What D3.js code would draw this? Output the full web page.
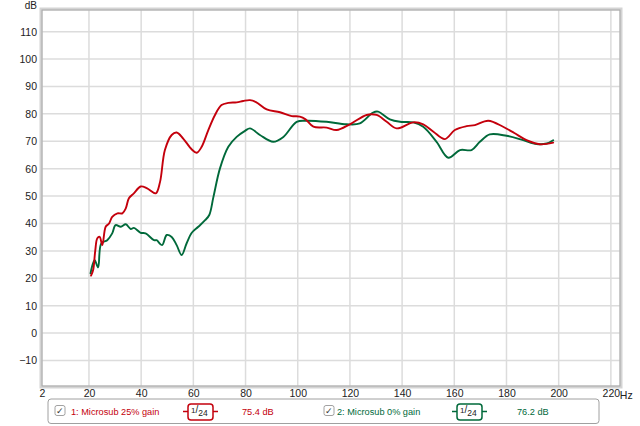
<!DOCTYPE html>
<html>
<head>
<meta charset="utf-8">
<script src="https://cdn.jsdelivr.net/npm/d3@7"></script>
<style>
  html, body { margin: 0; padding: 0; background: #fff; }
  svg { display: block; font-family: "Liberation Sans", Arial, sans-serif; }
</style>
</head>
<body>
<svg id="chart" width="640" height="426"></svg>
<script>
// ---- Data ----
const xTicks = [2, 20, 40, 60, 80, 100, 120, 140, 160, 180, 200, 220];
const yTicks = [-10, 0, 10, 20, 30, 40, 50, 60, 70, 80, 90, 100, 110];

const seriesNames = ["1: Microsub 25% gain", "2: Microsub 0% gain"];
const seriesLevels = ["75.4 dB", "76.2 dB"];
const seriesColors = ["#c4000c", "#00693a"];

const redFreq = [20.8, 21.6, 22.4, 23.2, 24.1, 25.1, 26.4, 27.7, 28.9, 30.9, 32.8, 34.1, 35.3, 37.2, 39.8, 42.3, 45.6,
  47.2, 49.1, 51.7, 53.6, 56.1, 59.4, 61.3, 63.2, 65.7, 68.3, 70.8, 73.4, 76.6, 79.1, 81.7, 84, 88.1, 93.2, 97.7,
  100.8, 103, 106, 111.1, 114.9, 120, 126.4, 130.2, 134.1, 137.9, 144.3, 148.1, 152, 156.4, 160.2, 164.7, 167.9,
  173, 178.7, 183, 187.7, 192.8, 197.9];
const redDb = [21, 23, 30, 34.6, 35.1, 32.1, 38.8, 40, 42.4, 43.7, 43.7, 45.5, 49.2, 51, 53.5, 52.8, 51,
  55, 66.8, 72.3, 73.2, 71, 67, 65.8, 68, 74, 79.6, 83.2, 84, 84.2, 84.7, 85, 84.3, 81.6, 80.6, 79.2,
  79, 78, 75.3, 75, 74.1, 76.2, 79.6, 79.6, 77.1, 74.7, 76.9, 76.2, 73.5, 70.8, 74.1, 75.5, 75.9,
  77.5, 75.3, 73, 70.4, 68.9, 69.5];

const greenFreq = [20.6, 21.4, 22.2, 23.5, 24.7, 27, 28.9, 30.2, 32.2, 34.1, 36, 37.2, 39.8, 41.7, 44.9, 45.9, 48,
  49.8, 51.7, 53.6, 55.5, 57.4, 59.4, 61.9, 64.5, 66.1, 67.7, 70.2, 73.4, 76.6, 79.8, 81.7, 85.5, 90.6, 94.5,
  99.6, 103.4, 111.1, 118.7, 123.8, 128.9, 130.8, 135.3, 139.2, 144.3, 148.1, 153.2, 157.7, 162.2, 166.6, 169.8,
  173.6, 180, 186.4, 191.5, 195.4, 197.9];
const greenDb = [21.8, 25, 26.6, 24, 32.7, 33.9, 36.4, 39.4, 38.8, 39.7, 38, 38.4, 36.6, 36.4, 33.9, 33.9, 32.1,
  35.8, 35.1, 32.1, 28.5, 32.7, 36.6, 38.8, 41.2, 43.1, 49.7, 60.1, 68, 71.6, 73.8, 74.7, 72.3, 69.8, 71.6,
  77.1, 77.5, 77.1, 76.2, 76.5, 80.5, 80.8, 78, 77.1, 76.9, 75.3, 69.8, 64, 66.8, 66.8, 69.8,
  72.5, 72, 70.4, 69, 69.2, 70.4];

// ---- Layout ----
const svg = d3.select("#chart");
const plot = { left: 42, top: 10, right: 620, bottom: 386 };

const x = d3.scaleLinear().domain([2, 223.5]).range([plot.left, plot.right]);
const y = d3.scaleLinear().domain([-19.3, 117.9]).range([plot.bottom, plot.top]);

// grid
const grid = svg.append("g");
grid.selectAll("line.v").data(xTicks.filter(d => d > 2)).join("line")
  .attr("x1", d => x(d)).attr("x2", d => x(d))
  .attr("y1", plot.top).attr("y2", plot.bottom)
  .attr("stroke", "#dcdcdc").attr("stroke-width", 1.5);
grid.selectAll("line.h").data(yTicks).join("line")
  .attr("x1", plot.left).attr("x2", plot.right)
  .attr("y1", d => y(d)).attr("y2", d => y(d))
  .attr("stroke", "#dcdcdc").attr("stroke-width", 1.5);

// frame with soft shadow
svg.append("rect")
  .attr("x", plot.left - 1).attr("y", plot.top - 1)
  .attr("width", plot.right - plot.left + 2).attr("height", plot.bottom - plot.top + 2)
  .attr("fill", "none").attr("stroke", "#d4d4d4").attr("stroke-width", 3);
svg.append("rect")
  .attr("x", plot.left).attr("y", plot.top)
  .attr("width", plot.right - plot.left).attr("height", plot.bottom - plot.top)
  .attr("fill", "none").attr("stroke", "#a8a8a8").attr("stroke-width", 1);

// axes (using d3 axis generators, domain line hidden)
const xAxis = d3.axisBottom(x).tickValues(xTicks).tickSize(0).tickPadding(4)
  .tickFormat(d => String(d));
const gx = svg.append("g").attr("transform", `translate(0,${plot.bottom})`).call(xAxis);
gx.select(".domain").remove();
gx.selectAll("text").attr("font-size", "10.5px").attr("fill", "#222")
  .attr("font-family", "Liberation Sans, Arial, sans-serif");
svg.append("text").attr("x", x(220) + 9).attr("y", plot.bottom + 13)
  .attr("font-size", "10.5px").attr("fill", "#222").text("Hz");

const yAxis = d3.axisLeft(y).tickValues(yTicks).tickSize(0).tickPadding(5);
const gy = svg.append("g").attr("transform", `translate(${plot.left},0)`).call(yAxis);
gy.select(".domain").remove();
gy.selectAll("text").attr("font-size", "10.5px").attr("fill", "#222")
  .attr("font-family", "Liberation Sans, Arial, sans-serif");
svg.append("text").attr("x", 37).attr("y", 8.5).attr("text-anchor", "end")
  .attr("font-size", "10px").attr("fill", "#222").text("dB");

// curves
const line = d3.line().x(d => x(d[0])).y(d => y(d[1])).curve(d3.curveCatmullRom.alpha(0.5));
const series = [
  d3.zip(redFreq, redDb),
  d3.zip(greenFreq, greenDb)
];
svg.append("defs").append("clipPath").attr("id", "clip").append("rect")
  .attr("x", plot.left).attr("y", plot.top)
  .attr("width", plot.right - plot.left).attr("height", plot.bottom - plot.top);
const curves = svg.append("g").attr("clip-path", "url(#clip)");
[1, 0].forEach(i => {
  curves.append("path").datum(series[i]).attr("d", line)
    .attr("fill", "none").attr("stroke", seriesColors[i]).attr("stroke-width", 1.9)
    .attr("stroke-linejoin", "round").attr("stroke-linecap", "round");
});

// legend
const lg = svg.append("g");
lg.append("rect").attr("x", 48).attr("y", 399).attr("width", 551).attr("height", 24.5)
  .attr("rx", 3).attr("fill", "#fff").attr("stroke", "#a0a0a0").attr("stroke-width", 1);

const legendPos = [
  { cb: 55, label: 71, box: 188, level: 242 },
  { cb: 324, label: 337, box: 457, level: 517 }
];
legendPos.forEach((p, i) => {
  const c = seriesColors[i];
  const g = lg.append("g");
  g.append("rect").attr("x", p.cb).attr("y", 405.5).attr("width", 10).attr("height", 10)
    .attr("rx", 2).attr("fill", "#fff").attr("stroke", "#8a8a8a").attr("stroke-width", 0.8);
  g.append("text").attr("x", p.cb + 5).attr("y", 414).attr("text-anchor", "middle")
    .attr("font-size", "9px").attr("fill", "#333").text("✓");
  g.append("text").attr("x", p.label).attr("y", 415).attr("font-size", "9.2px")
    .attr("fill", c).text(seriesNames[i]);
  // 1/24 smoothing badge
  g.append("line").attr("x1", p.box - 5).attr("x2", p.box + 30).attr("y1", 411.5).attr("y2", 411.5)
    .attr("stroke", c).attr("stroke-width", 1.5);
  g.append("rect").attr("x", p.box).attr("y", 404).attr("width", 25).attr("height", 16)
    .attr("rx", 3).attr("fill", "#fff").attr("stroke", c).attr("stroke-width", 1.5);
  const t = g.append("text").attr("x", p.box + 3).attr("y", 415).attr("fill", "#222");
  t.append("tspan").attr("font-size", "8px").attr("dy", -2).text("1");
  t.append("tspan").attr("font-size", "10px").attr("dy", 0).text("/");
  t.append("tspan").attr("font-size", "8.5px").attr("dy", 3).text("24");
  g.append("text").attr("x", p.level).attr("y", 415).attr("font-size", "9.2px")
    .attr("fill", c).text(seriesLevels[i]);
});
</script>
</body>
</html>
